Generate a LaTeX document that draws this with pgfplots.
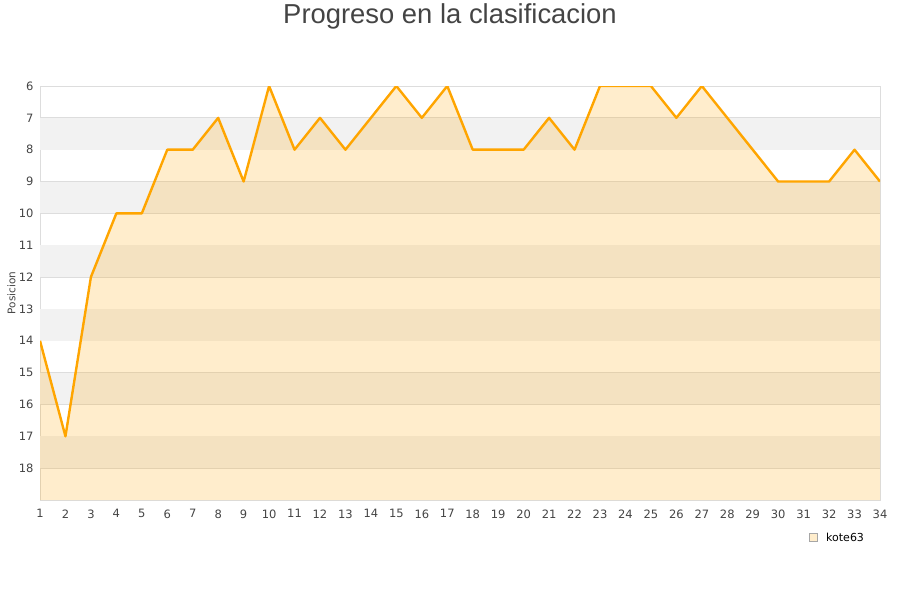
\documentclass[border=0pt]{standalone}
\usepackage{pgfplots}
\pgfplotsset{compat=1.18}
\usepackage{fontspec}
\setmainfont{DejaVu Sans}
\newfontfamily\titlefont{Liberation Sans}
\definecolor{lineor}{HTML}{FFA500}
\definecolor{band}{HTML}{F2F2F2}
\definecolor{gridc}{HTML}{DDDDDD}
\definecolor{txt}{HTML}{444444}
\begin{document}
\begin{tikzpicture}
\path[use as bounding box] (0pt,0pt) rectangle (900pt,600pt);
\node[font=\titlefont\fontsize{27.4}{30}\selectfont, text=txt] at (450pt,584pt) {Progreso en la clasificacion};
\begin{axis}[
  at={(40pt,100pt)}, anchor=south west,
  scale only axis, width=840pt, height=414pt,
  xmin=1, xmax=34, ymin=6, ymax=19,
  y dir=reverse,
  xtick={1,...,34}, ytick={6,...,18},
  major tick length=0pt,
  ymajorgrids, grid style={gridc, line width=0.8pt},
  axis line style={gridc, line width=0.8pt},
  tick label style={font=\fontsize{11.5}{12}\selectfont, text=txt},
  /pgf/number format/assume math mode=true,
  yticklabel style={xshift=-3pt},
  xticklabel style={yshift=-6pt},
  ylabel={Posicion},
  every axis y label/.style={at={(axis description cs:-0.034,0.5)}, rotate=90, anchor=center, font=\fontsize{10.5}{12}\selectfont, text=txt},
  clip=true,
]
\foreach \b in {7,9,11,13,15,17} {
  \edef\tmp{\noexpand\fill[band] (axis cs:1,\b) rectangle (axis cs:34,\the\numexpr\b+1\relax);}
  \tmp
}
\addplot[draw=none, fill=lineor, fill opacity=0.2] coordinates {
(1,14)(2,17)(3,12)(4,10)(5,10)(6,8)(7,8)(8,7)(9,9)(10,6)(11,8)(12,7)(13,8)(14,7)(15,6)(16,7)(17,6)(18,8)(19,8)(20,8)(21,7)(22,8)(23,6)(24,6)(25,6)(26,7)(27,6)(28,7)(29,8)(30,9)(31,9)(32,9)(33,8)(34,9)(34,19)(1,19)} -- cycle;
\addplot[draw=lineor, line width=2.4pt, line join=round, mark=none] coordinates {
(1,14)(2,17)(3,12)(4,10)(5,10)(6,8)(7,8)(8,7)(9,9)(10,6)(11,8)(12,7)(13,8)(14,7)(15,6)(16,7)(17,6)(18,8)(19,8)(20,8)(21,7)(22,8)(23,6)(24,6)(25,6)(26,7)(27,6)(28,7)(29,8)(30,9)(31,9)(32,9)(33,8)(34,9)};
\end{axis}
\draw[draw=gray!70, fill=lineor!20, line width=0.6pt] (809pt,59pt) rectangle (817pt,67pt);
\node[anchor=west, font=\fontsize{11}{12}\selectfont, text=black, inner sep=0pt] at (826pt,63pt) {kote63};
\end{tikzpicture}
\end{document}
